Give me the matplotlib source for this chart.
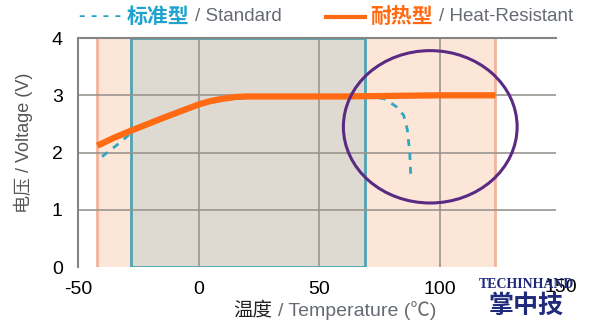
import matplotlib
matplotlib.use("Agg")
import numpy as np
from matplotlib import pyplot as plt
from matplotlib.patches import Ellipse, Rectangle

plt.rcParams['font.family'] = ['Liberation Sans', 'Noto Sans CJK SC']
plt.rcParams['axes.unicode_minus'] = False

# heat-resistant type (solid orange)
heat_temp = [-42, -35, -27, -15, -5, 0, 5, 10, 15, 20, 40, 60, 80, 100, 123]
heat_volt = [2.12, 2.26, 2.4, 2.6, 2.76, 2.84, 2.9, 2.94, 2.97, 2.98, 2.98, 2.98, 2.99, 3.0, 3.0]

# standard type (dotted teal)
std_temp = [-40, -37, -33, -27, -15, -5, 0, 10, 20, 40, 60, 72, 77, 82, 85, 86.5, 87.5, 88]
std_volt = [1.93, 2.03, 2.16, 2.38, 2.58, 2.74, 2.82, 2.92, 2.96, 2.97, 2.97, 2.97, 2.94, 2.8, 2.65, 2.4, 2.0, 1.53]

xticks = [-50, 0, 50, 100]
yticks = [0, 1, 2, 3, 4]

fig = plt.figure(figsize=(5.95, 3.25), dpi=100)
ax = fig.add_axes([0.131, 0.178, 0.803, 0.705])
ax.set_xlim(-50, 148)
ax.set_ylim(0, 4)

# shaded ranges
ax.axvspan(-42, 123, color='#fbe6d8', zorder=0)
ax.axvline(-42, color='#f3b49c', lw=2, zorder=1)
ax.axvline(123, color='#f3b49c', lw=2, zorder=1)
ax.add_patch(Rectangle((-28, 0), 97, 4, facecolor='#dedad2', edgecolor='#4da4b4', lw=2, zorder=1))

# grid
for x in xticks[1:]:
    ax.axvline(x, color='#9a958f', lw=1.2, zorder=2)
for y in yticks[1:]:
    ax.axhline(y, color='#9a958f', lw=1.2, zorder=2)

ax.plot(std_temp, std_volt, color='#2ea8c2', lw=2, ls=(0, (2.5, 2.5)), zorder=3)
ax.plot(heat_temp, heat_volt, color='#ff6a12', lw=4.5, solid_capstyle='butt', zorder=4)

ax.add_patch(Ellipse((96, 2.45), 72, 2.66, fill=False, edgecolor='#5b2a82', lw=2.2, zorder=5))

for s in ['right', 'bottom']:
    ax.spines[s].set_visible(False)
for s in ['left', 'top']:
    ax.spines[s].set_color('#858585')
    ax.spines[s].set_linewidth(1.5)

ax.set_xticks(xticks)
ax.set_yticks(yticks)
ax.tick_params(length=0, labelsize=14)
ax.tick_params(axis='x', pad=10)
ax.tick_params(axis='y', pad=11)
ax.text(150, -0.2, '150', ha='center', va='top', fontsize=14, transform=ax.transData)


def chain(prev, s, gap=3, **kw):
    # place a text right after the previous one
    return plt.annotate(s, xy=(1, 0.5), xycoords=prev, xytext=(gap, 0),
                        textcoords='offset points', ha='left', va='center', **kw)


# axis labels
t = fig.text(0.392, 0.045, '温度', fontsize=14, color='#222222', ha='left', va='center')
chain(t, '/ Temperature (℃)', gap=4, fontsize=14, color='#666b73')
fig.text(0.04, 0.56, '电压 / Voltage (V)', fontsize=13, color='#555555', rotation=90, ha='center', va='center')

# legend on top
t = fig.text(0.133, 0.948, '- - - -', fontsize=14, color='#1fa3cc', fontweight='bold', ha='left', va='center')
t = chain(t, '标准型', gap=4, fontsize=15, color='#1fa3cc', fontweight='bold')
chain(t, '/ Standard', gap=4, fontsize=13.5, color='#666b73')
fig.add_artist(plt.Line2D([0.548, 0.614], [0.948, 0.948], color='#ff6a12', lw=3, transform=fig.transFigure))
t = fig.text(0.623, 0.948, '耐热型', fontsize=15, color='#ff6a12', fontweight='bold', ha='left', va='center')
chain(t, '/ Heat-Resistant', gap=4, fontsize=13.5, color='#666b73')

# watermark
fig.text(0.885, 0.125, 'TECHINHAND', fontsize=10, color='#1f2a7a', fontweight='bold', family='Liberation Serif', ha='center', va='center')
fig.text(0.885, 0.06, '掌中技', fontsize=18, color='#1f2a7a', fontweight='bold', family='Noto Sans CJK SC', ha='center', va='center')

fig.savefig('out.png', dpi=100)
